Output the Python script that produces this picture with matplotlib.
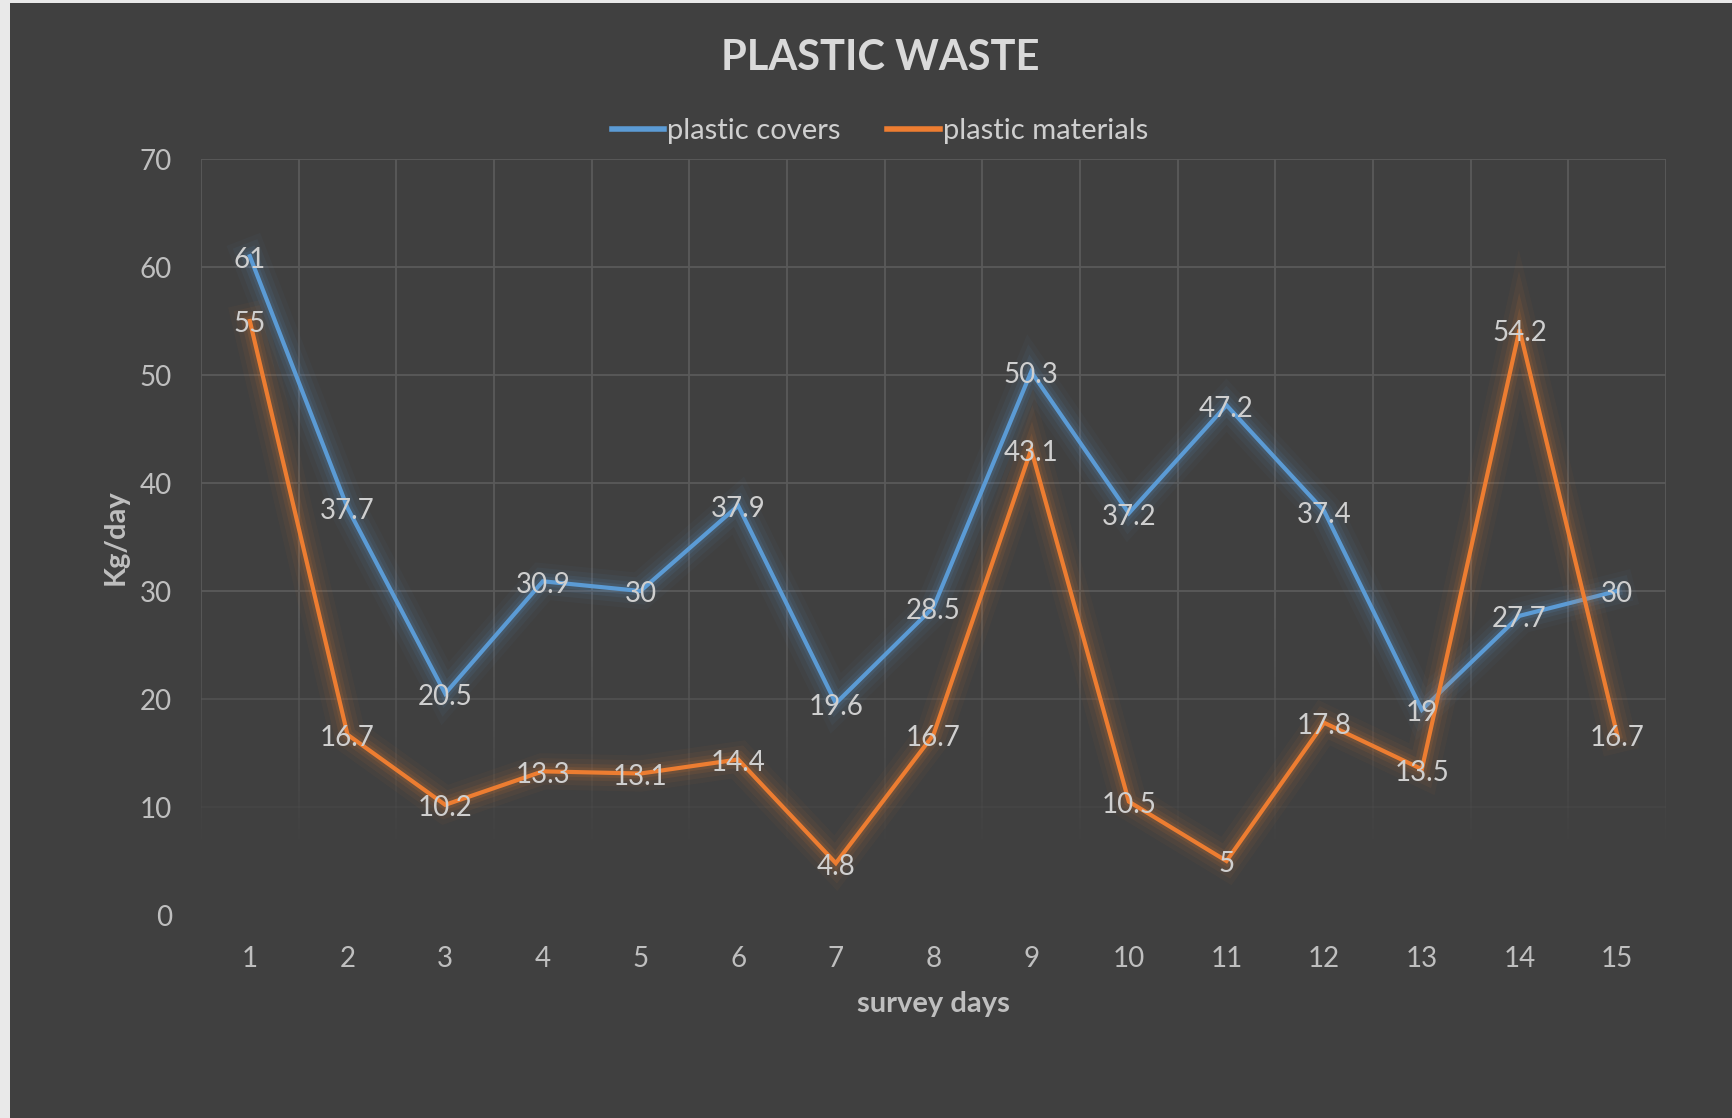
import matplotlib.pyplot as plt
import matplotlib.patheffects as pe
from matplotlib.collections import LineCollection
from matplotlib.patches import Rectangle
import numpy as np

plt.rcParams['font.family'] = ['Lato', 'DejaVu Sans']

days = list(range(1, 16))
plastic_covers = [61, 37.7, 20.5, 30.9, 30, 37.9, 19.6, 28.5, 50.3, 37.2, 47.2, 37.4, 19, 27.7, 30]
plastic_materials = [55, 16.7, 10.2, 13.3, 13.1, 14.4, 4.8, 16.7, 43.1, 10.5, 5, 17.8, 13.5, 54.2, 16.7]
y_ticks = [0, 10, 20, 30, 40, 50, 60, 70]

BG = '#404040'
BLUE = '#5B9BD5'
ORANGE = '#ED7D31'
W, H = 1732, 1118

fig = plt.figure(figsize=(W / 100, H / 100), dpi=100)
fig.patch.set_facecolor(BG)
# light frame on the left and top edges
fig.patches.append(Rectangle((0, 0), 10 / W, 1, transform=fig.transFigure,
                             facecolor='#e9e9e9', edgecolor='none'))
fig.patches.append(Rectangle((0, 1 - 3 / H), 1, 3 / H, transform=fig.transFigure,
                             facecolor='#e9e9e9', edgecolor='none'))

ax = fig.add_axes([201 / W, (H - 915) / H, (1666 - 201) / W, (915 - 159) / H])
ax.set_facecolor(BG)
ax.set_xlim(0.5, 15.5)
ax.set_ylim(0, 70)
for s in ax.spines.values():
    s.set_visible(False)


# gridlines fade out toward the bottom, like the original
def fade(y):
    return float(np.clip((y - 6) / 22, 0, 1))


segs, cols = [], []
rgb = np.array([0x5a, 0x5a, 0x5a]) / 255
for yv in y_ticks[1:]:
    segs.append([(0.5, yv), (15.5, yv)])
    cols.append((*rgb, fade(yv)))
ys = np.linspace(0, 70, 141)
for xv in np.arange(0.5, 16, 1):
    for y0, y1 in zip(ys[:-1], ys[1:]):
        segs.append([(xv, y0), (xv, y1)])
        cols.append((*rgb, fade((y0 + y1) / 2)))
ax.add_collection(LineCollection(segs, colors=cols, linewidths=1.3, zorder=1))


def glow(color):
    return [pe.Stroke(linewidth=26, foreground=color, alpha=0.04),
            pe.Stroke(linewidth=19, foreground=color, alpha=0.06),
            pe.Stroke(linewidth=12, foreground=color, alpha=0.09),
            pe.Stroke(linewidth=7, foreground=color, alpha=0.12),
            pe.Normal()]


ax.plot(days, plastic_covers, color=BLUE, lw=3, solid_joinstyle='miter',
        path_effects=glow(BLUE), zorder=3, label='plastic covers')
ax.plot(days, plastic_materials, color=ORANGE, lw=3, solid_joinstyle='miter',
        path_effects=glow(ORANGE), zorder=3, label='plastic materials')

for series in (plastic_covers, plastic_materials):
    for d, v in zip(days, series):
        ax.annotate(f'{v:g}', (d, v), xytext=(0, -2.5), textcoords='offset points',
                    ha='center', va='center', fontsize=20, color='#cfcfcf', zorder=5)

ax.set_xticks(days)
ax.set_yticks(y_ticks)
ax.tick_params(length=0, labelsize=20, labelcolor='#bfbfbf')
ax.tick_params(axis='x', pad=22)
ax.tick_params(axis='y', pad=21)

ax.set_xlabel('survey days', fontsize=21, fontweight='bold', color='#bfbfbf', labelpad=14)
ax.set_ylabel('Kg/day', fontsize=21, fontweight='bold', color='#bfbfbf', labelpad=8)

fig.text(880 / W, 1 - 58 / H, 'PLASTIC WASTE', ha='center', va='center',
         fontsize=30, fontweight='bold', color='#d9d9d9')

leg = fig.legend(loc='center', bbox_to_anchor=(880 / W, 1 - 131 / H), ncol=2,
                 frameon=False, fontsize=21, labelcolor='#cfcfcf',
                 handlelength=1.8, handletextpad=0.1, columnspacing=1.6)
for h in leg.legend_handles:
    h.set_path_effects([])
    h.set_linewidth(4)

fig.savefig('out.png', dpi=100, facecolor=fig.get_facecolor())
